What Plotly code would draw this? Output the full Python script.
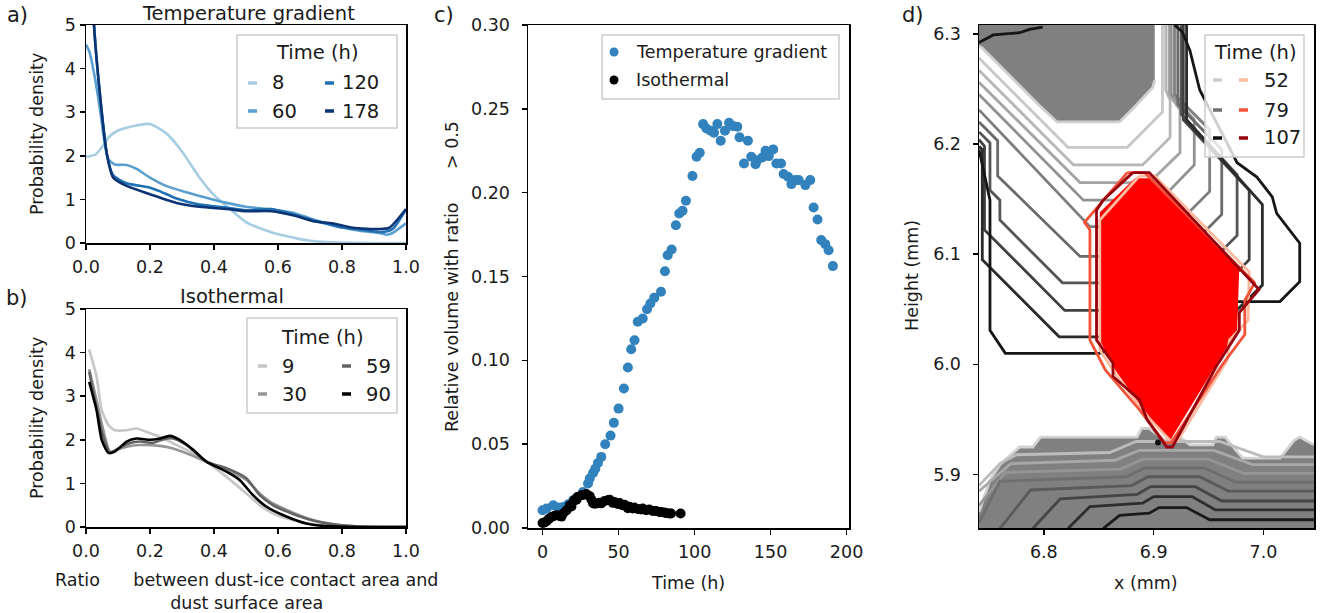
import plotly.graph_objects as go

W, H = 1321, 613
FONT = "DejaVu Sans"
TXT = "#1a1a1a"

# ---------------- panel a : temperature gradient PDFs ----------------
a_labels = ["8", "60", "120", "178"]
a_colors = ["#a6cde2", "#5a9fcf", "#2070b4", "#0b3474"]
a_x_8 = [0, 0.01, 0.03, 0.05, 0.07, 0.1, 0.13, 0.16, 0.2, 0.25, 0.3, 0.35, 0.4, 0.45, 0.5, 0.55, 0.6, 0.65, 0.7, 0.75, 0.8, 0.9, 1.0]
a_y_8 = [1.98, 1.99, 2.03, 2.2, 2.42, 2.58, 2.65, 2.70, 2.73, 2.52, 2.1, 1.55, 1.1, 0.78, 0.48, 0.32, 0.2, 0.12, 0.05, 0.02, 0.01, 0.0, 0.0]
a_x_60 = [0, 0.01, 0.025, 0.045, 0.055, 0.07, 0.09, 0.127, 0.158, 0.2, 0.25, 0.31, 0.376, 0.44, 0.5, 0.58, 0.65, 0.71, 0.79, 0.855, 0.917, 0.94, 0.958, 1.0]
a_y_60 = [4.55, 4.4, 3.9, 3.0, 2.46, 1.92, 1.8, 1.79, 1.7, 1.5, 1.31, 1.17, 1.04, 0.92, 0.83, 0.77, 0.69, 0.54, 0.38, 0.28, 0.23, 0.19, 0.23, 0.45]
a_x_120 = [0, 0.01, 0.025, 0.045, 0.066, 0.085, 0.127, 0.2, 0.23, 0.283, 0.355, 0.44, 0.5, 0.58, 0.65, 0.71, 0.79, 0.855, 0.927, 0.958, 1.0]
a_y_120 = [9.0, 7.5, 5.0, 3.3, 2.0, 1.55, 1.37, 1.27, 1.19, 1.02, 0.88, 0.81, 0.75, 0.78, 0.65, 0.52, 0.37, 0.31, 0.25, 0.32, 0.77]
a_x_178 = [0, 0.01, 0.025, 0.045, 0.066, 0.085, 0.127, 0.2, 0.283, 0.355, 0.44, 0.5, 0.58, 0.65, 0.71, 0.77, 0.834, 0.917, 0.948, 1.0]
a_y_178 = [9.5, 7.8, 5.0, 3.3, 2.0, 1.5, 1.31, 1.12, 0.92, 0.83, 0.78, 0.73, 0.73, 0.63, 0.5, 0.45, 0.35, 0.32, 0.35, 0.78]

# ---------------- panel b : isothermal PDFs ----------------
b_labels = ["9", "30", "59", "90"]
b_colors = ["#c6c6c6", "#969696", "#636363", "#000000"]
b_x_9 = [0.01, 0.033, 0.049, 0.07, 0.09, 0.127, 0.158, 0.2, 0.231, 0.272, 0.314, 0.376, 0.439, 0.501, 0.543, 0.584, 0.647, 0.709, 0.771, 0.85, 1.0]
b_y_9 = [4.07, 3.45, 2.68, 2.34, 2.22, 2.22, 2.26, 2.15, 2.07, 1.92, 1.77, 1.5, 1.15, 0.77, 0.5, 0.31, 0.16, 0.06, 0.015, 0.0, 0.0]
b_x_30 = [0.01, 0.033, 0.054, 0.075, 0.096, 0.127, 0.168, 0.231, 0.272, 0.314, 0.376, 0.439, 0.501, 0.543, 0.584, 0.647, 0.709, 0.771, 0.834, 0.9, 1.0]
b_y_30 = [3.62, 2.91, 2.22, 1.73, 1.77, 1.84, 1.88, 1.86, 1.8, 1.69, 1.5, 1.31, 1.08, 0.77, 0.54, 0.33, 0.16, 0.07, 0.02, 0.0, 0.0]
b_x_59 = [0.01, 0.054, 0.075, 0.096, 0.127, 0.168, 0.21, 0.241, 0.272, 0.314, 0.376, 0.439, 0.501, 0.543, 0.584, 0.647, 0.709, 0.771, 0.85, 1.0]
b_y_59 = [3.56, 2.07, 1.7, 1.78, 1.9, 1.96, 1.93, 2.01, 2.03, 1.88, 1.5, 1.35, 1.12, 0.73, 0.5, 0.3, 0.15, 0.06, 0.01, 0.0]
b_x_90 = [0.01, 0.033, 0.049, 0.07, 0.09, 0.127, 0.158, 0.2, 0.231, 0.262, 0.293, 0.335, 0.376, 0.439, 0.48, 0.522, 0.563, 0.626, 0.688, 0.75, 0.85, 1.0]
b_y_90 = [3.33, 2.68, 2.0, 1.7, 1.73, 1.96, 2.03, 2.0, 2.03, 2.09, 2.0, 1.77, 1.5, 1.27, 1.08, 0.73, 0.47, 0.24, 0.08, 0.02, 0.0, 0.0]

# ---------------- panel c : relative volume with ratio > 0.5 ----------------
tg_time = [0, 2.6, 7.0, 10.2, 13.5, 16.8, 20.1, 23.0, 26.6, 29.9, 31.0, 33.2, 34.7, 36.4, 38.6, 41.2, 44.7, 46.9, 50.0, 53.5,
           56.1, 58.3, 60.5, 62.6, 65.9, 68.7, 70.9, 73.5, 77.9, 80.5, 82.3, 84.9, 87.7, 89.9, 92.1, 94.3, 98.6, 101.3, 103.4, 105.6,
           107.8, 110.6, 112.8, 115.0, 117.2, 120.0, 122.7, 125.3, 128.1, 129.6, 132.5, 135.1, 137.3, 140.1, 141.2, 144.5, 146.7, 148.8, 151.7, 153.8,
           156.9, 158.6, 161.5, 163.7, 166.3, 168.5, 172.9, 176.1, 178.3, 180.9, 183.3, 186.0, 188.2, 191.0]
tg_vol = [0.0106, 0.0116, 0.0136, 0.0122, 0.0125, 0.0141, 0.0165, 0.0185, 0.0215, 0.0265, 0.0295, 0.0328, 0.0354, 0.0388, 0.0424, 0.0500, 0.0551, 0.0627, 0.0712, 0.0832,
          0.0957, 0.1066, 0.1120, 0.1230, 0.1249, 0.1305, 0.1339, 0.1374, 0.1409, 0.1531, 0.1627, 0.1661, 0.1806, 0.1876, 0.1892, 0.1952, 0.2099, 0.2214, 0.2238, 0.2409,
          0.2383, 0.2369, 0.2357, 0.2409, 0.2310, 0.2369, 0.2417, 0.2397, 0.2393, 0.2330, 0.2174, 0.2310, 0.2214, 0.2170, 0.2194, 0.2210, 0.2250, 0.2218, 0.2258, 0.2174,
          0.2174, 0.2111, 0.2095, 0.2051, 0.2075, 0.2075, 0.2045, 0.2075, 0.1912, 0.1840, 0.1717, 0.1693, 0.1657, 0.1562]
iso_time = [0, 1.3, 2.6, 4.2, 5.9, 7.5, 9.2, 11.3, 12.4, 13.5, 15.7, 17.9, 19.0, 20.7, 22.3, 23.0, 25.5, 27.2, 28.8, 31.0,
            32.1, 33.2, 34.3, 35.9, 37.5, 38.6, 40.8, 43.0, 44.1, 46.3, 47.3, 49.5, 50.6, 52.8, 53.9, 56.1, 57.1, 59.4, 60.4, 62.6,
            64.8, 65.9, 68.1, 70.2, 72.5, 74.6, 76.8, 77.9, 80.1, 81.2, 83.4, 84.5, 90.8]
iso_vol = [0.0030, 0.0033, 0.0040, 0.0055, 0.0066, 0.0072, 0.0076, 0.0072, 0.0068, 0.0086, 0.0105, 0.0136, 0.0128, 0.0165, 0.0168, 0.0185, 0.0195, 0.0199, 0.0203, 0.0190,
           0.0170, 0.0148, 0.0145, 0.0147, 0.0151, 0.0147, 0.0161, 0.0165, 0.0169, 0.0150, 0.0155, 0.0143, 0.0149, 0.0135, 0.0139, 0.0118, 0.0126, 0.0116, 0.0122, 0.0114,
           0.0110, 0.0116, 0.0106, 0.0110, 0.0102, 0.0102, 0.0096, 0.0096, 0.0092, 0.0090, 0.0086, 0.0086, 0.0086]

# ---------------- panel d : contours (mm) ----------------
d_labels = ["52", "79", "107"]
d_gray_leg = ["#cccccc", "#6f6f6f", "#111111"]
d_red_leg = ["#fcbba1", "#f4533a", "#99000d"]

top_fill_x = [6.741, 6.741, 6.744, 6.760, 6.778, 6.796, 6.812, 6.869, 6.883, 6.899, 6.901, 6.901]
top_fill_y = [6.308, 6.289, 6.287, 6.271, 6.253, 6.235, 6.220, 6.220, 6.234, 6.251, 6.258, 6.308]

top_colors = ["#c8c8c8", "#b6b6b6", "#a4a4a4", "#919191", "#7e7e7e", "#6a6a6a", "#555555", "#404040", "#2b2b2b", "#161616"]
top_k1_x = [6.741, 6.822, 6.876, 6.908, 6.908]
top_k1_y = [6.278, 6.197, 6.197, 6.229, 6.308]
top_k2_x = [6.741, 6.827, 6.890, 6.915, 6.915, 6.911, 6.911]
top_k2_y = [6.267, 6.181, 6.181, 6.206, 6.240, 6.249, 6.308]
top_k3_x = [6.741, 6.833, 6.896, 6.924, 6.924, 6.914, 6.914]
top_k3_y = [6.256, 6.165, 6.165, 6.192, 6.231, 6.245, 6.308]
top_k4_x = [6.741, 6.836, 6.906, 6.937, 6.937, 6.916, 6.916]
top_k4_y = [6.245, 6.149, 6.149, 6.181, 6.222, 6.245, 6.308]
top_k5_x = [6.741, 6.842, 6.919, 6.951, 6.951, 6.919, 6.919]
top_k5_y = [6.231, 6.125, 6.125, 6.157, 6.213, 6.245, 6.308]
top_k6_x = [6.741, 6.758, 6.758, 6.833, 6.924, 6.962, 6.962, 6.922, 6.922]
top_k6_y = [6.220, 6.203, 6.171, 6.098, 6.098, 6.136, 6.195, 6.236, 6.308]
top_k7_x = [6.741, 6.751, 6.751, 6.760, 6.760, 6.817, 6.933, 6.976, 6.976, 6.925, 6.925]
top_k7_y = [6.211, 6.201, 6.158, 6.149, 6.131, 6.074, 6.074, 6.117, 6.172, 6.227, 6.308]
top_k8_x = [6.741, 6.746, 6.746, 6.819, 6.942, 6.987, 6.987, 6.927, 6.927]
top_k8_y = [6.204, 6.198, 6.122, 6.049, 6.049, 6.095, 6.158, 6.222, 6.308]
top_k9_x = [6.741, 6.744, 6.744, 6.814, 6.951, 6.999, 6.999, 6.930, 6.930]
top_k9_y = [6.198, 6.195, 6.095, 6.025, 6.025, 6.072, 6.145, 6.222, 6.308]
top_k10_x = [6.741, 6.751, 6.751, 6.760, 6.765, 6.851, 6.974, 7.015, 7.033, 7.033, 7.012, 7.008, 6.994, 6.976, 6.942, 6.933, 6.926, 6.919]
top_k10_y = [6.195, 6.149, 6.031, 6.018, 6.010, 6.010, 6.057, 6.057, 6.075, 6.110, 6.137, 6.152, 6.170, 6.183, 6.249, 6.285, 6.302, 6.308]
corner_x = [6.741, 6.754, 6.778, 6.787, 6.799]
corner_y = [6.292, 6.299, 6.301, 6.304, 6.306]

bot_fill_x = [6.741, 6.751, 6.760, 6.778, 6.790, 6.797, 6.885, 6.889, 6.896, 6.910, 6.924, 6.933, 6.954, 6.957, 6.965, 6.981, 7.015, 7.028, 7.033, 7.046, 7.046, 6.741]
bot_fill_y = [5.866, 5.895, 5.909, 5.925, 5.925, 5.934, 5.934, 5.942, 5.942, 5.931, 5.934, 5.927, 5.927, 5.934, 5.934, 5.915, 5.915, 5.931, 5.934, 5.927, 5.8515, 5.8515]
bot_colors = ["#d2d2d2", "#bcbcbc", "#a8a8a8", "#959595", "#6e6e6e", "#5a5a5a", "#454545", "#2e2e2e", "#1a1a1a"]
bot_l1_x = bot_fill_x[:20]
bot_l1_y = bot_fill_y[:20]
bot_l2_x = [6.741, 6.760, 6.775, 6.860, 6.884, 6.960, 7.000, 7.046]
bot_l2_y = [5.890, 5.910, 5.918, 5.920, 5.930, 5.930, 5.916, 5.916]
bot_l3_x = [6.741, 6.770, 6.865, 6.887, 6.955, 6.990, 7.046]
bot_l3_y = [5.885, 5.910, 5.913, 5.922, 5.922, 5.909, 5.909]
bot_l4_x = [6.741, 6.765, 6.870, 6.890, 6.950, 6.982, 7.046]
bot_l4_y = [5.872, 5.902, 5.905, 5.914, 5.914, 5.901, 5.901]
bot_l5_x = [6.741, 6.760, 6.875, 6.892, 6.946, 6.975, 7.046]
bot_l5_y = [5.856, 5.894, 5.898, 5.906, 5.906, 5.893, 5.893]
bot_l6_x = [6.760, 6.788, 6.880, 6.895, 6.942, 6.968, 7.046]
bot_l6_y = [5.851, 5.886, 5.890, 5.898, 5.898, 5.885, 5.885]
bot_l7_x = [6.790, 6.815, 6.885, 6.897, 6.938, 6.962, 7.046]
bot_l7_y = [5.851, 5.878, 5.882, 5.889, 5.889, 5.876, 5.876]
bot_l8_x = [6.822, 6.842, 6.890, 6.900, 6.935, 6.956, 7.046]
bot_l8_y = [5.851, 5.871, 5.874, 5.880, 5.880, 5.868, 5.868]
bot_l9_x = [6.854, 6.869, 6.896, 6.905, 6.930, 6.951, 7.046]
bot_l9_y = [5.851, 5.863, 5.865, 5.870, 5.870, 5.859, 5.859]

red_fill_x = [6.883, 6.896, 6.978, 6.976, 6.956, 6.915, 6.896, 6.865, 6.851, 6.851, 6.883]
red_fill_y = [6.169, 6.169, 6.088, 6.031, 5.998, 5.931, 5.951, 5.995, 6.022, 6.138, 6.169]
red52_x = [6.887, 6.901, 6.987, 6.986, 6.969, 6.967, 6.922, 6.915, 6.896, 6.869, 6.851, 6.851, 6.887]
red52_y = [6.171, 6.171, 6.084, 6.040, 6.022, 6.004, 5.931, 5.931, 5.951, 5.986, 6.013, 6.131, 6.171]
red79_x = [6.876, 6.892, 6.992, 6.983, 6.983, 6.962, 6.916, 6.910, 6.887, 6.856, 6.842, 6.842, 6.837, 6.876]
red79_y = [6.174, 6.174, 6.074, 6.058, 6.027, 5.999, 5.929, 5.929, 5.959, 5.995, 6.022, 6.122, 6.129, 6.174]
red107_x = [6.881, 6.896, 6.996, 6.978, 6.978, 6.957, 6.917, 6.912, 6.894, 6.887, 6.863, 6.863, 6.848, 6.848, 6.854, 6.881]
red107_y = [6.174, 6.174, 6.068, 6.047, 6.031, 5.998, 5.925, 5.925, 5.950, 5.968, 5.989, 6.001, 6.022, 6.140, 6.149, 6.174]
dot_x = [6.904]
dot_y = [5.929]

# ======================================================================
def PX(x):
    return x / W


def PY(y):
    return 1 - y / H


fig = go.Figure()

def line(x, y, color, xa, ya, width=2.6, shape="spline"):
    fig.add_trace(go.Scatter(x=x, y=y, mode="lines", xaxis=xa, yaxis=ya,
                             line=dict(color=color, width=width, shape=shape, smoothing=0.6),
                             showlegend=False, hoverinfo="skip"))

for xs, ys, c in zip([a_x_8, a_x_60, a_x_120, a_x_178], [a_y_8, a_y_60, a_y_120, a_y_178], a_colors):
    line(xs, ys, c, "x", "y")
for xs, ys, c in zip([b_x_9, b_x_30, b_x_59, b_x_90], [b_y_9, b_y_30, b_y_59, b_y_90], b_colors):
    line(xs, ys, c, "x2", "y2")

fig.add_trace(go.Scatter(x=tg_time, y=tg_vol, mode="markers", xaxis="x3", yaxis="y3",
                         marker=dict(color="#3182bd", size=10, line=dict(width=0)),
                         showlegend=False, hoverinfo="skip"))
fig.add_trace(go.Scatter(x=iso_time, y=iso_vol, mode="markers", xaxis="x3", yaxis="y3",
                         marker=dict(color="#000000", size=10, line=dict(width=0)),
                         showlegend=False, hoverinfo="skip"))

# panel d
def poly_fill(x, y, fillcolor):
    fig.add_trace(go.Scatter(x=x, y=y, mode="lines", fill="toself", fillcolor=fillcolor,
                             line=dict(width=0), xaxis="x4", yaxis="y4",
                             showlegend=False, hoverinfo="skip"))

def dline(x, y, color, width=2.8):
    line(x, y, color, "x4", "y4", width=width, shape="linear")

poly_fill(top_fill_x, top_fill_y, "#808080")
dline(top_fill_x[1:-1], top_fill_y[1:-1], "#d0d0d0")
top_lines = [(top_k1_x, top_k1_y), (top_k2_x, top_k2_y), (top_k3_x, top_k3_y), (top_k4_x, top_k4_y),
             (top_k5_x, top_k5_y), (top_k6_x, top_k6_y), (top_k7_x, top_k7_y), (top_k8_x, top_k8_y),
             (top_k9_x, top_k9_y), (top_k10_x, top_k10_y)]
for (xs, ys), c in zip(top_lines, top_colors):
    dline(xs, ys, c)
dline(corner_x, corner_y, "#161616")

poly_fill(bot_fill_x, bot_fill_y, "#808080")
bot_lines = [(bot_l1_x, bot_l1_y), (bot_l2_x, bot_l2_y), (bot_l3_x, bot_l3_y), (bot_l4_x, bot_l4_y),
             (bot_l5_x, bot_l5_y), (bot_l6_x, bot_l6_y), (bot_l7_x, bot_l7_y), (bot_l8_x, bot_l8_y),
             (bot_l9_x, bot_l9_y)]
for (xs, ys), c in zip(bot_lines, bot_colors):
    dline(xs, ys, c)

poly_fill(red_fill_x, red_fill_y, "#ff0000")
for xs, ys, c in zip([red52_x, red79_x, red107_x], [red52_y, red79_y, red107_y], d_red_leg):
    dline(xs, ys, c)
fig.add_trace(go.Scatter(x=dot_x, y=dot_y, mode="markers", xaxis="x4", yaxis="y4",
                         marker=dict(color="#111111", size=6), showlegend=False, hoverinfo="skip"))

# ---------------- axes ----------------
def axis(domain, rng, tickvals, ticktext, anchor, standoff=0):
    return dict(domain=domain, range=rng, tickmode="array", tickvals=tickvals, ticktext=ticktext,
                showline=True, mirror=True, linecolor="black", linewidth=1.5,
                ticks="outside", ticklen=5, tickwidth=1.5, tickcolor="black",
                showgrid=False, zeroline=False, anchor=anchor, fixedrange=True,
                automargin=False, ticklabelstandoff=standoff,
                tickfont=dict(family=FONT, size=17.5, color=TXT))

ratio_ticks = [0, 0.2, 0.4, 0.6, 0.8, 1.0]
ratio_text = ["0.0", "0.2", "0.4", "0.6", "0.8", "1.0"]
pdf_ticks = [0, 1, 2, 3, 4, 5]
pdf_text = ["0", "1", "2", "3", "4", "5"]
c_xticks = [0, 50, 100, 150, 200]
c_yticks = [0, 0.05, 0.10, 0.15, 0.20, 0.25, 0.30]
c_ytext = ["0.00", "0.05", "0.10", "0.15", "0.20", "0.25", "0.30"]
d_xticks = [6.8, 6.9, 7.0]
d_yticks = [5.9, 6.0, 6.1, 6.2, 6.3]

dom_ab_x = [PX(86), PX(406)]
dom_c_x = [PX(528), PX(849)]
dom_d_x = [PX(979), PX(1314)]
dom_a_y = [PY(243), PY(25)]
dom_b_y = [PY(527), PY(309)]
dom_cd_y = [PY(528), PY(25)]

fig.update_layout(
    xaxis=axis(dom_ab_x, [0, 1], ratio_ticks, ratio_text, "y", 2),
    yaxis=axis(dom_a_y, [0, 5], pdf_ticks, pdf_text, "x"),
    xaxis2=axis(dom_ab_x, [0, 1], ratio_ticks, ratio_text, "y2", 2),
    yaxis2=axis(dom_b_y, [0, 5], pdf_ticks, pdf_text, "x2"),
    xaxis3=axis(dom_c_x, [-9.6, 201.6], c_xticks, [str(v) for v in c_xticks], "y3", 2),
    yaxis3=axis(dom_cd_y, [0, 0.30], c_yticks, c_ytext, "x3", 8),
    xaxis4=axis(dom_d_x, [6.741, 7.046], d_xticks, ["6.8", "6.9", "7.0"], "y4", 2),
    yaxis4=axis(dom_cd_y, [5.8515, 6.308], d_yticks, ["5.9", "6.0", "6.1", "6.2", "6.3"], "x4", 8),
)

# ---------------- text ----------------
ann = []

def text(px_, py_, s, size=18, xanchor="center", yanchor="middle", angle=0, align="center"):
    ann.append(dict(x=PX(px_), y=PY(py_), xref="paper", yref="paper", text=s, showarrow=False,
                    xanchor=xanchor, yanchor=yanchor, textangle=angle, align=align,
                    font=dict(family=FONT, size=size, color=TXT)))

NB = "\u00a0"
text(17, 15, "a)", 21)
text(17, 298, "b)", 21)
text(444, 15, "c)", 21)
text(913, 15, "d)", 21)
text(248, 13, "Temperature gradient", 19.5)
text(232, 296, "Isothermal", 19.5)
text(37, 134, "Probability density", 17.5, angle=-90)
text(37, 418, "Probability density", 17.5, angle=-90)
text(452, 276, "Relative volume with ratio" + NB * 5 + " > 0.5", 17.5, angle=-90)
text(912, 276, "Height (mm)", 17.5, angle=-90)
text(688, 583, "Time (h)", 17.5)
text(1146, 583, "x (mm)", 17.5)
text(246, 591, "Ratio" + NB * 5 + " between dust-ice contact area and<br>dust surface area", 17.5)

shapes = []

def box(x0, y0, x1, y1):
    shapes.append(dict(type="rect", xref="paper", yref="paper", x0=PX(x0), x1=PX(x1), y0=PY(y1), y1=PY(y0),
                       fillcolor="rgba(255,255,255,0.8)", line=dict(color="#cccccc", width=1.5), layer="above"))

def sample(x0, x1, yy, color, width=3.5):
    shapes.append(dict(type="line", xref="paper", yref="paper", x0=PX(x0), x1=PX(x1), y0=PY(yy), y1=PY(yy),
                       line=dict(color=color, width=width), layer="above"))

def dot(cx, cy, color, r=4.5):
    shapes.append(dict(type="circle", xref="paper", yref="paper", x0=PX(cx - r), x1=PX(cx + r),
                       y0=PY(cy + r), y1=PY(cy - r), fillcolor=color, line=dict(width=0), layer="above"))

# legend a
box(237, 35, 397, 128)
text(317, 52, "Time (h)", 19.5)
for i, (lab, c) in enumerate(zip(a_labels, a_colors)):
    col, row = divmod(i, 2)
    yy = [83, 111][row]
    xs = [248, 325][col]
    sample(xs, xs + 9, yy, c)
    text(xs + 22 if col == 0 else xs + 15, yy, lab, 19.5, xanchor="left")

# legend b
box(247, 318, 397, 413)
text(322, 337, "Time (h)", 19.5)
for i, (lab, c) in enumerate(zip(b_labels, b_colors)):
    col, row = divmod(i, 2)
    yy = [366, 394][row]
    xs = [258, 342][col]
    sample(xs, xs + 9, yy, c)
    text(xs + 22, yy, lab, 19.5, xanchor="left")

# legend c
box(602, 35, 839, 99)
dot(614, 52, "#3182bd")
dot(614, 80, "#000000")
text(634, 52, "Temperature gradient", 17.5, xanchor="left")
text(634, 80, "Isothermal", 17.5, xanchor="left")

# legend d
box(1205, 35, 1304, 157)
text(1255, 52, "Time (h)", 19.5)
for i, lab in enumerate(d_labels):
    yy = [80, 110, 138][i]
    sample(1213, 1222, yy, d_gray_leg[i])
    sample(1239, 1248, yy, d_red_leg[i])
    text(1262, yy, lab, 19.5, xanchor="left")

fig.update_layout(
    width=W, height=H, margin=dict(l=0, r=0, t=0, b=0, autoexpand=False),
    paper_bgcolor="white", plot_bgcolor="white",
    annotations=ann, shapes=shapes, showlegend=False,
    font=dict(family=FONT, color=TXT),
)

fig.write_html("out.html",
               config={"displayModeBar": False, "staticPlot": True},
               post_script="document.body.style.margin='0';document.body.style.overflow='hidden';"
                           "document.documentElement.style.overflow='hidden';")
